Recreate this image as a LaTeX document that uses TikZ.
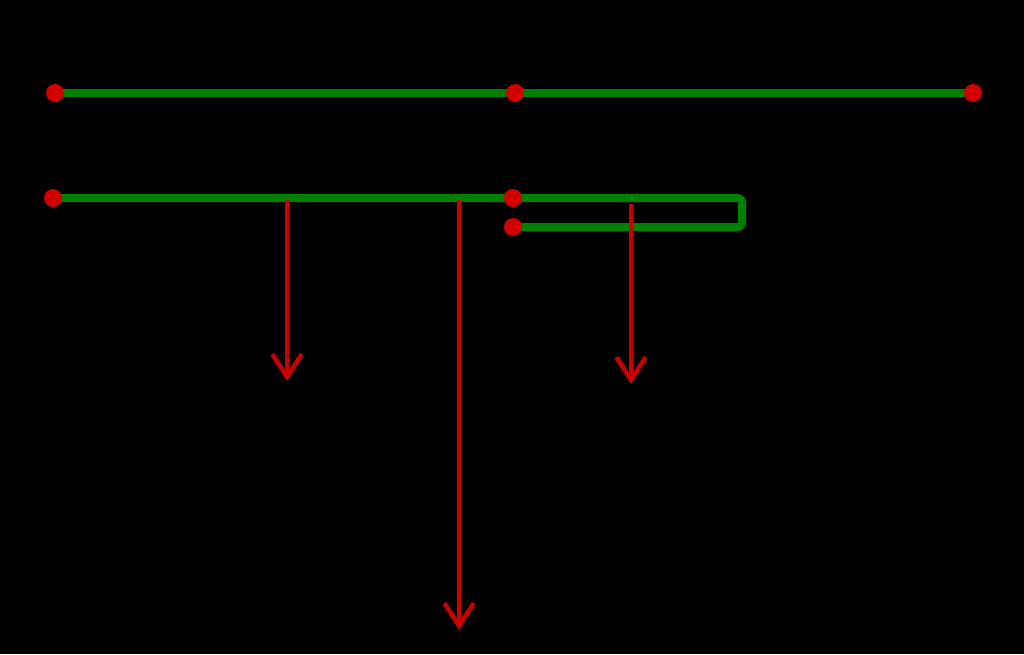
\documentclass[tikz,border=0pt]{standalone}
\usetikzlibrary{arrows.meta}
\definecolor{bargreen}{RGB}{0,128,0}
\definecolor{dotred}{RGB}{210,0,0}
\definecolor{arrred}{RGB}{200,0,0}
\begin{document}
\begin{tikzpicture}[x=0.75pt,y=-0.75pt,
  bar/.style={draw=bargreen,line width=6pt,line join=round},
  joint/.style={circle,fill=dotred,inner sep=0pt,minimum size=13.5pt},
  force/.style={draw=arrred,line width=3pt,-{Straight Barb[length=17pt,width=22pt,line width=3.4pt]}},
  lbl/.style={text=black,font=\fontsize{30}{34}\selectfont}]
\fill[black] (0,0) rectangle (1024,654);
\useasboundingbox (0,0) rectangle (1024,654);
% top beam
\coordinate (a1) at (55,93);
\coordinate (a2) at (515,93);
\coordinate (a3) at (973,93);
\draw[bar] (a1) -- (a3);
\node[joint] (j1) at (a1) {};
\node[joint] (j2) at (a2) {};
\node[joint] (j3) at (a3) {};
% lower beam with folded part
\coordinate (b1) at (53,198);
\coordinate (b2) at (513,198);
\coordinate (b3) at (742,198);
\coordinate (b4) at (742,227);
\coordinate (b5) at (513,227);
\draw[bar,rounded corners=3pt] (b1) -- (b3) -- (b4) -- (b5);
% forces
\coordinate (f1s) at (287,200);
\coordinate (f1e) at (287,381);
\coordinate (f2s) at (631,204);
\coordinate (f2e) at (631,384);
\coordinate (fs) at (459,200);
\coordinate (fe) at (459,630);
\draw[force] (f1s) -- (f1e);
\draw[force] (f2s) -- (f2e);
\draw[force] (fs) -- (fe);
\node[joint] (k1) at (b1) {};
\node[joint] (k2) at (b2) {};
\node[joint] (k3) at (b5) {};
% labels
\node[lbl] (l1) at (287,424) {$\vec{\mathbf{P}}_1$};
\node[lbl] (l2) at (630,427) {$\vec{\mathbf{P}}_2$};
\node[lbl] (l3) at (505,600) {$\vec{\mathbf{P}}$};
\end{tikzpicture}
\end{document}
